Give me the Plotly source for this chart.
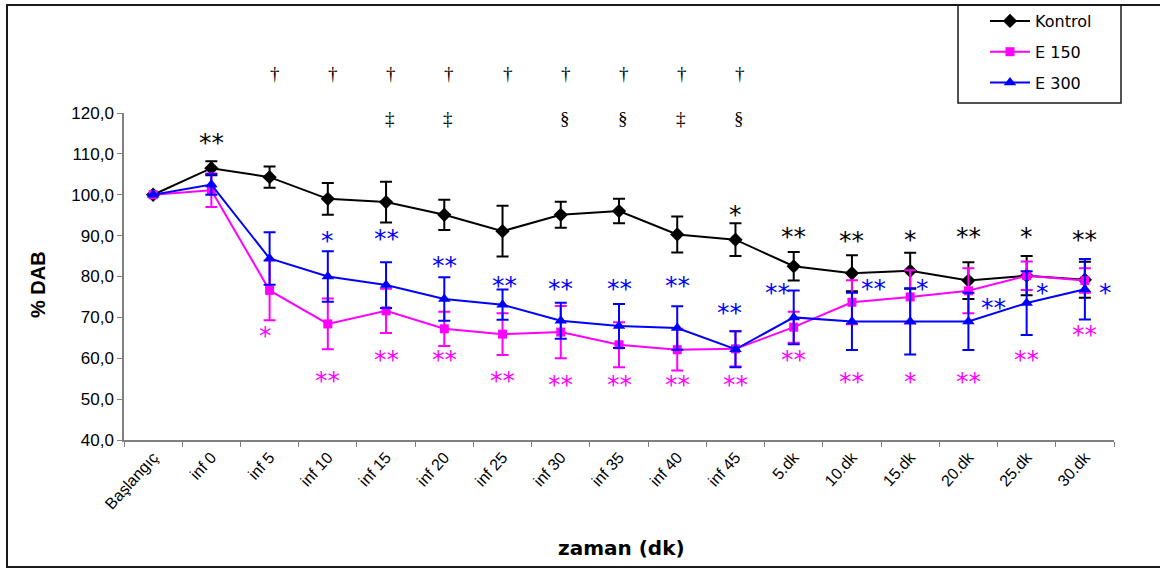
import plotly.graph_objects as go

categories = ["Başlangıç", "inf 0", "inf 5", "inf 10", "inf 15", "inf 20", "inf 25",
              "inf 30", "inf 35", "inf 40", "inf 45", "5.dk", "10.dk", "15.dk",
              "20.dk", "25.dk", "30.dk"]

kontrol = [100.0, 106.5, 104.3, 99.0, 98.2, 95.1, 91.1, 95.1, 96.0, 90.3, 89.0,
           82.5, 80.8, 81.4, 79.0, 80.2, 79.2]
kontrol_err = [None, 1.7, 2.6, 3.9, 5.0, 3.7, 6.2, 3.2, 3.0, 4.4, 4.0,
               3.5, 4.4, 4.4, 4.5, 4.8, 4.4]

e150 = [100.0, 101.1, 76.6, 68.4, 71.6, 67.2, 65.9, 66.4, 63.3, 62.1, 62.3,
        67.6, 73.7, 75.0, 76.5, 80.2, 79.0]
e150_err = [None, 4.1, 7.3, 6.2, 5.4, 4.2, 5.1, 6.4, 5.5, 5.1, 4.3,
            3.8, 5.4, 6.5, 5.5, 3.5, 3.0]

e300 = [100.0, 102.5, 84.4, 80.0, 77.9, 74.5, 73.1, 69.2, 67.9, 67.4, 62.2,
        70.0, 69.0, 69.0, 69.0, 73.5, 76.9]
e300_err = [None, 2.5, 6.4, 6.2, 5.6, 5.3, 3.7, 4.4, 5.4, 5.3, 4.4,
            6.6, 7.0, 8.1, 7.0, 7.8, 7.4]

y_tick_vals = [40, 50, 60, 70, 80, 90, 100, 110, 120]
y_tick_text = ["40,0", "50,0", "60,0", "70,0", "80,0", "90,0", "100,0", "110,0", "120,0"]

# significance marks: (category index, y value, text, x shift px)
kontrol_marks = [(1, 112.8, "**", 0), (10, 95.1, "*", 0), (11, 89.8, "**", 0),
                 (12, 88.8, "**", 0), (13, 89.0, "*", 0), (14, 89.7, "**", 0),
                 (15, 89.8, "*", 0), (16, 89.0, "**", 0)]
e300_marks = [(3, 88.9, "*", 0), (4, 89.4, "**", 0), (5, 82.8, "**", 0),
              (6, 77.7, "**", 2), (7, 77.1, "**", 0), (8, 77.1, "**", 0),
              (9, 77.7, "**", 0), (10, 71.3, "**", -6), (11, 76.2, "**", -16),
              (12, 77.0, "**", 22), (13, 77.0, "*", 12), (14, 72.3, "**", 25),
              (15, 76.2, "*", 16), (16, 76.2, "*", 21)]
e150_marks = [(2, 65.5, "*", -4), (3, 54.5, "**", 0), (4, 59.8, "**", 0),
              (5, 59.6, "**", 0), (6, 54.5, "**", 0), (7, 53.7, "**", 0),
              (8, 53.7, "**", 0), (9, 53.5, "**", 0), (10, 53.7, "**", 0),
              (11, 59.6, "**", 0), (12, 54.3, "**", 0), (13, 54.3, "*", 0),
              (14, 54.3, "**", 0), (15, 59.6, "**", 0), (16, 65.7, "**", 0)]
dagger_row1 = [(2, "†"), (3, "†"), (4, "†"), (5, "†"), (6, "†"), (7, "†"),
               (8, "†"), (9, "†"), (10, "†")]
dagger_row2 = [(4, "‡"), (5, "‡"), (7, "§"), (8, "§"), (9, "‡"), (10, "§")]
dagger_y1 = 129.7
dagger_y2 = 118.6

Y_MIN, Y_MAX = 40, 120

fig = go.Figure()
series = [
    ("Kontrol", kontrol, kontrol_err, "#000000", "diamond", 11),
    ("E 150", e150, e150_err, "#FF00FF", "square", 9),
    ("E 300", e300, e300_err, "#0000FF", "triangle-up", 11),
]
for name, vals, errs, col, sym, sz in series:
    fig.add_trace(go.Scatter(
        x=categories, y=vals, name=name, mode="lines+markers",
        legendgroup=name,
        line=dict(color=col, width=2),
        marker=dict(symbol=sym, size=sz, color=col, line=dict(width=0)),
        error_y=dict(type="data", array=errs, visible=True, color=col,
                     thickness=2, width=6),
    ))

star_font = "DejaVu Sans"
annotations = []
for marks, col in [(kontrol_marks, "#000000"), (e300_marks, "#0000FF"), (e150_marks, "#FF00FF")]:
    for i, yv, txt, xs in marks:
        annotations.append(dict(
            x=categories[i], y=yv, xref="x", yref="y", text=txt, showarrow=False,
            xanchor="center", yanchor="middle",
            xshift=xs, yshift=0, font=dict(family=star_font, size=25, color=col)))

def paper_y(v):
    return (v - Y_MIN) / (Y_MAX - Y_MIN)

for i, txt in dagger_row1:
    annotations.append(dict(x=categories[i], y=paper_y(dagger_y1), xref="x", yref="paper",
                            text=txt, showarrow=False, xshift=5,
                            xanchor="center", yanchor="middle",
                            font=dict(family="Liberation Serif", size=19, color="#000000")))
for i, txt in dagger_row2:
    annotations.append(dict(x=categories[i], y=paper_y(dagger_y2), xref="x", yref="paper",
                            text=txt, showarrow=False, xshift=4,
                            xanchor="center", yanchor="middle",
                            font=dict(family="Liberation Serif", size=19, color="#000000")))

# layout geometry in pixels
L, R, T, B = 124, 46, 113, 130
W, H = 1160, 570
PW, PH = W - L - R, H - T - B

def px_x(p):
    return (p - L) / PW

def px_y(p):
    return (H - B - p) / PH

annotations.append(dict(x=px_x(38), y=px_y(285), xref="paper", yref="paper",
                        text="<b>% DAB</b>", textangle=-90, showarrow=False,
                        xanchor="center", yanchor="middle",
                        font=dict(family="Liberation Sans", size=20, color="#000000")))
annotations.append(dict(x=px_x(621), y=px_y(548), xref="paper", yref="paper",
                        text="<b>zaman (dk)</b>", showarrow=False,
                        xanchor="center", yanchor="middle",
                        font=dict(family="DejaVu Sans", size=20, color="#000000")))

shapes = [
    dict(type="rect", xref="paper", yref="paper",
         x0=px_x(7), x1=px_x(1170), y0=px_y(567), y1=px_y(5),
         line=dict(color="#1a1a1a", width=2), fillcolor="rgba(0,0,0,0)", layer="below"),
    dict(type="rect", xref="paper", yref="paper",
         x0=px_x(958), x1=px_x(1121), y0=px_y(103), y1=px_y(5),
         line=dict(color="#1a1a1a", width=1.5), fillcolor="rgba(0,0,0,0)", layer="below"),
]

fig.update_layout(
    width=W, height=H, autosize=False,
    margin=dict(l=L, r=R, t=T, b=B, pad=0, autoexpand=False),
    paper_bgcolor="white", plot_bgcolor="white",
    font=dict(family="Liberation Sans, Arial", color="#000000"),
    showlegend=True,
    legend=dict(x=985 / W, y=1 - 4 / H, xref="container", yref="container",
                xanchor="left", yanchor="top",
                bgcolor="rgba(0,0,0,0)", borderwidth=0,
                font=dict(family="DejaVu Sans", size=16, color="#000000"),
                traceorder="grouped", tracegroupgap=7, itemwidth=40),
    xaxis=dict(type="category", tickson="boundaries", ticks="outside", ticklen=5,
               tickcolor="#808080", showline=True, linecolor="#808080", linewidth=1.5,
               showgrid=False, zeroline=False, tickangle=-48, automargin=False,
               tickfont=dict(family="Liberation Sans", size=16, color="#000000"),
               range=[-0.5, len(categories) - 0.5]),
    yaxis=dict(range=[Y_MIN, Y_MAX], tickvals=y_tick_vals, ticktext=y_tick_text,
               ticks="outside", ticklen=5, tickcolor="#808080", showline=True,
               linecolor="#808080", linewidth=1.5, showgrid=False, zeroline=False,
               automargin=False,
               tickfont=dict(family="Liberation Sans", size=17, color="#000000")),
    annotations=annotations,
    shapes=shapes,
)

fig.write_html("out.html", config={"displayModeBar": False},
               post_script="document.body.style.margin='0';document.body.style.overflow='hidden';")
